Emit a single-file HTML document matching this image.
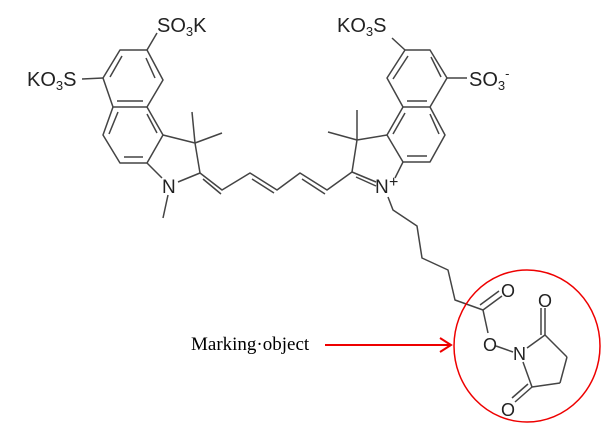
<!DOCTYPE html>
<html><head><style>
html,body{margin:0;padding:0;background:#fff;}
svg{display:block;}
text{font-family:"Liberation Sans",Arial,sans-serif;fill:#222;}
</style></head><body>
<svg width="603" height="429" viewBox="0 0 603 429" xmlns="http://www.w3.org/2000/svg">
<g stroke="#444" stroke-width="1.5" fill="none" stroke-linejoin="round">
<polyline points="147,50 120,50 103,78 113,107 147,107 163,80 147,50"/>
<line x1="122" y1="56" x2="110" y2="77"/>
<line x1="146" y1="58" x2="155" y2="78"/>
<line x1="117" y1="101" x2="143" y2="101"/>
<polyline points="113,107 103,135 120,163 147,163 163,135 147,107"/>
<line x1="109" y1="134" x2="118" y2="112"/>
<line x1="124" y1="157" x2="143" y2="157"/>
<line x1="147" y1="114" x2="157" y2="133"/>
<polyline points="163,135 195,143 200,173 178,182"/>
<line x1="162" y1="178" x2="147" y2="163"/>
<line x1="195" y1="143" x2="192" y2="112"/>
<line x1="195" y1="143" x2="222" y2="133"/>
<line x1="168" y1="195" x2="163" y2="218"/>
<line x1="147" y1="50" x2="157" y2="33"/>
<line x1="82" y1="79" x2="103" y2="78"/>
<polyline points="200,173 222,190 250,173 277,190 300,173 327,190 352,172"/>
<line x1="203" y1="179" x2="221" y2="194"/>
<line x1="252" y1="179" x2="274" y2="193"/>
<line x1="302" y1="179" x2="325" y2="194"/>
<line x1="356" y1="177" x2="376" y2="186"/>
<polyline points="405,50 430,50 447,78 430,107 403,107 387,78 405,50"/>
<line x1="408" y1="56" x2="393" y2="79"/>
<line x1="431" y1="57" x2="441" y2="77"/>
<line x1="407" y1="101" x2="427" y2="101"/>
<polyline points="430,107 445,135 430,162 403,162 387,135 403,107"/>
<line x1="430" y1="114" x2="439" y2="134"/>
<line x1="407" y1="156" x2="427" y2="156"/>
<line x1="393" y1="134" x2="405" y2="113"/>
<polyline points="387,135 357,140 352,172"/>
<line x1="352" y1="172" x2="376" y2="182"/>
<line x1="395" y1="178" x2="403" y2="162"/>
<line x1="357" y1="140" x2="357" y2="110"/>
<line x1="357" y1="140" x2="328" y2="132"/>
<line x1="392" y1="38" x2="405" y2="50"/>
<line x1="447" y1="78" x2="467" y2="78"/>
<polyline points="388,197 393,210 417,226 422,258 448,270 455,300 483,310"/>
<line x1="483" y1="310" x2="502" y2="296"/>
<line x1="480" y1="305" x2="499" y2="291"/>
<line x1="483" y1="310" x2="488" y2="333"/>
<line x1="496" y1="346" x2="513" y2="352"/>
<line x1="527" y1="348" x2="545" y2="335"/>
<line x1="545" y1="335" x2="567" y2="357"/>
<line x1="567" y1="357" x2="560" y2="383"/>
<line x1="560" y1="383" x2="532" y2="387"/>
<line x1="532" y1="387" x2="523" y2="362"/>
<line x1="545" y1="335" x2="545" y2="308"/>
<line x1="541" y1="335" x2="541" y2="308"/>
<line x1="532" y1="387" x2="515" y2="402"/>
<line x1="528" y1="384" x2="512" y2="398"/>
</g>
<text x="157" y="32" font-size="20">SO<tspan font-size="13" dy="4">3</tspan><tspan dy="-4">K</tspan></text>
<text x="27" y="86" font-size="20">KO<tspan font-size="13" dy="4">3</tspan><tspan dy="-4">S</tspan></text>
<text x="162" y="193" font-size="19">N</text>
<text x="337" y="32" font-size="20">KO<tspan font-size="13" dy="4">3</tspan><tspan dy="-4">S</tspan></text>
<text x="469" y="86" font-size="20">SO<tspan font-size="13" dy="4">3</tspan><tspan font-size="13" dy="-12">-</tspan></text>
<text x="375" y="193" font-size="19">N</text>
<text x="389" y="187" font-size="16">+</text>
<text x="501" y="297" font-size="18">O</text>
<text x="483" y="351" font-size="18">O</text>
<text x="513" y="360" font-size="18">N</text>
<text x="538" y="307" font-size="18">O</text>
<text x="501" y="416" font-size="18">O</text>
<ellipse cx="527" cy="346" rx="73" ry="76" fill="none" stroke="#e00" stroke-width="1.5"/>
<line x1="325" y1="345" x2="450" y2="345" stroke="#e00" stroke-width="2"/>
<polyline points="440,338 451,345 440,352" fill="none" stroke="#e00" stroke-width="2"/>
<text x="191" y="350" font-size="19" style="font-family:'Liberation Serif',serif;fill:#000">Marking·object</text>
</svg>
</body></html>
